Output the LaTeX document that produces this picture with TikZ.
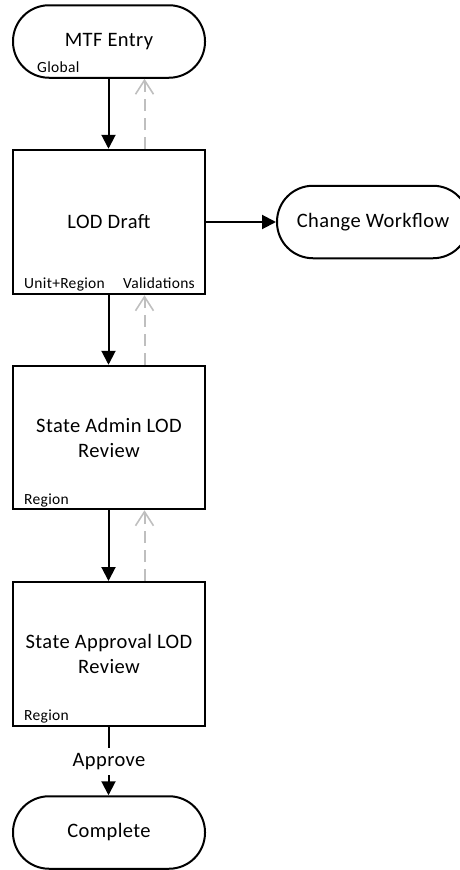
\documentclass[tikz,border=0pt]{standalone}
\usepackage{fontspec}
\setmainfont{Carlito}[LetterSpace=2]
\usetikzlibrary{arrows.meta}
\begin{document}
\begin{tikzpicture}[x=1pt,y=-1pt,
  box/.style={draw=black,line width=2pt,minimum width=192pt,inner sep=0pt,font=\fontsize{20.5}{25}\selectfont,align=center},
  term/.style={box,minimum height=72.5pt,rounded corners=36pt},
  proc/.style={box},
  lbl/.style={font=\fontsize{15.5}{18}\selectfont,inner sep=0pt},
  flow/.style={draw=black,line width=2pt,-{Triangle[length=14pt,width=14pt]}},
  back/.style={draw=black!25,line width=2pt,dash pattern=on 12pt off 7pt,-{Straight Barb[length=14pt,width=18pt,line width=1.6pt]}},
  plain/.style={draw=black,line width=2pt}]
\useasboundingbox (0,0) rectangle (459,870);
\node[term] (mtf) at (109,41.5) {\raisebox{-2pt}{MTF Entry}};
\node[lbl,anchor=base west] (glob) at (37,72) {Global};
\node[proc,minimum height=144.5pt] (lod) at (109,222) {LOD Draft};
\node[lbl,anchor=base west] (unit) at (24,288) {Unit+Region};
\node[lbl,anchor=base east] (val) at (195,288) {Validations};
\node[term] (chg) at (373,222) {Change Workflow};
\node[proc,minimum height=143.5pt] (adm) at (109,437.5) {State Admin LOD\\[0pt]Review};
\node[lbl,anchor=base west] (reg1) at (24,504) {Region};
\node[proc,minimum height=144pt] (app) at (109,654) {State Approval LOD\\[0pt]Review};
\node[lbl,anchor=base west] (reg2) at (24,720) {Region};
\node[term] (cmp) at (109,832.5) {Complete};
\node[font=\fontsize{20.5}{25}\selectfont,inner sep=0pt] (apv) at (109,762) {Approve};
\coordinate (apvtop) at (108.5,748);
\coordinate (apvbot) at (108.5,775);
\draw[flow] (mtf.south -| 108.5,0) -- (lod.north -| 108.5,0);
\draw[back] (lod.north -| 144.5,0) -- (mtf.south -| 144.5,0);
\draw[flow] (lod.east) -- (chg.west);
\draw[flow] (lod.south -| 108.5,0) -- (adm.north -| 108.5,0);
\draw[back] (adm.north -| 144.5,0) -- (lod.south -| 144.5,0);
\draw[flow] (adm.south -| 108.5,0) -- (app.north -| 108.5,0);
\draw[back] (app.north -| 144.5,0) -- (adm.south -| 144.5,0);
\draw[plain] (app.south -| 108.5,0) -- (apvtop);
\draw[flow] (apvbot) -- (cmp.north -| 108.5,0);
\end{tikzpicture}
\end{document}
